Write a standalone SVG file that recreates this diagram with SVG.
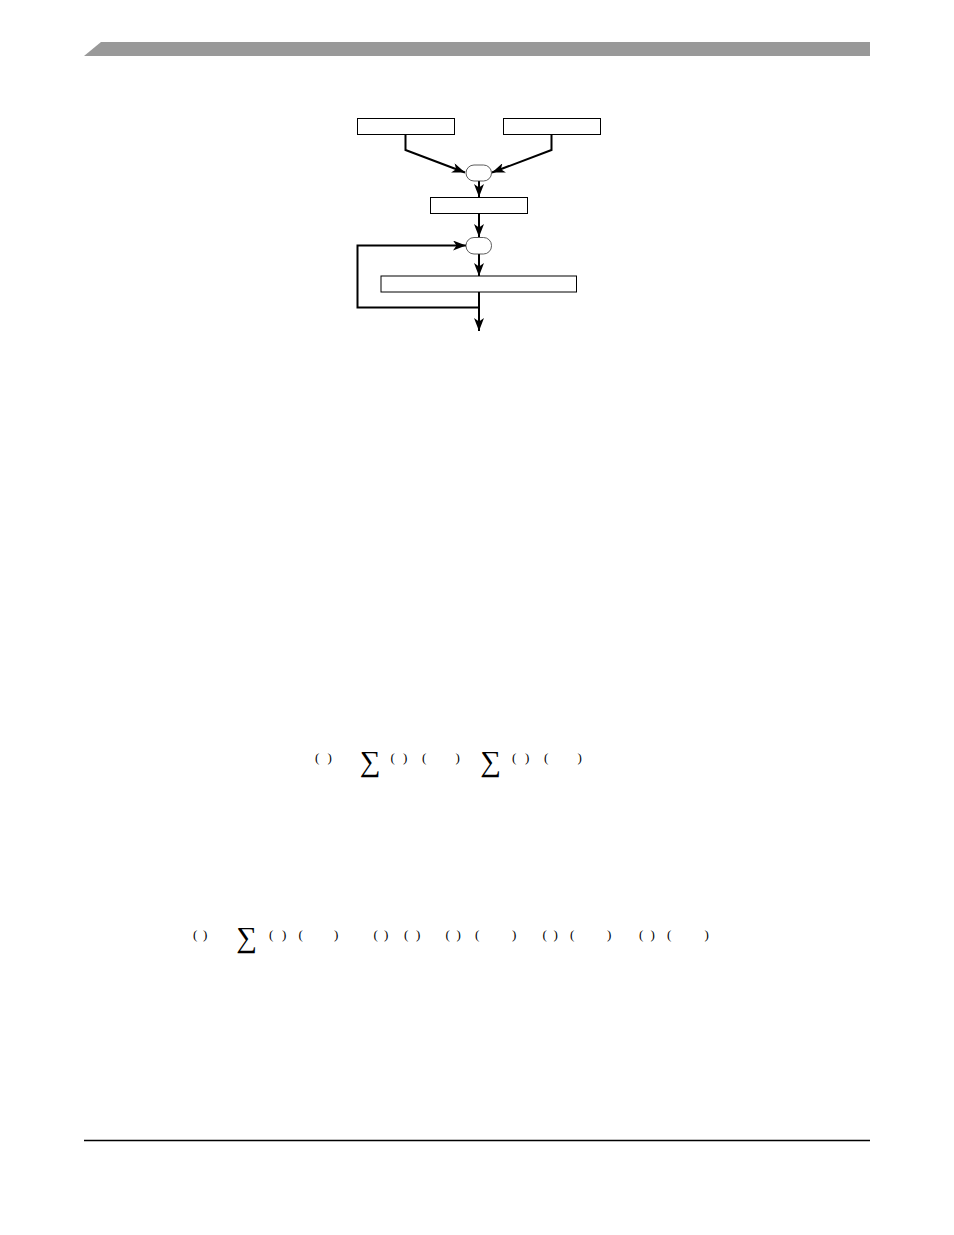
<svg xmlns="http://www.w3.org/2000/svg" width="954" height="1235" viewBox="0 0 954 1235">
<style>
.box{fill:#fff;stroke:#000;stroke-width:1}
.pill{fill:#fff;stroke:#333;stroke-width:0.8}
.conn{fill:none;stroke:#000;stroke-width:2}
.f{font-family:"Liberation Serif","Times New Roman",serif;font-size:13px;fill:#000}
.s{font-family:"Liberation Serif","Times New Roman",serif;font-size:29px;fill:#000}
</style>
<defs>
<marker id="ah" viewBox="0 0 13 10" refX="13" refY="5" markerWidth="13" markerHeight="10" markerUnits="userSpaceOnUse" orient="auto">
<path d="M0,0 L13,5 L0,10 L3.5,5 z" fill="#000"/>
</marker>
</defs>
<rect width="954" height="1235" fill="#fff"/>
<polygon id="header" points="84,56 101,42 870,42 870,56" fill="#999"/>
<line id="footer" x1="84" y1="1140.5" x2="870" y2="1140.5" stroke="#000" stroke-width="1.3"/>
<g id="connectors">
<path class="conn" d="M405.5,134.5 V150 L465,172.5" marker-end="url(#ah)"/>
<path class="conn" d="M551.5,134.5 V150 L492,172.5" marker-end="url(#ah)"/>
<path class="conn" d="M479,181 V197" marker-end="url(#ah)"/>
<path class="conn" d="M479,213.5 V237" marker-end="url(#ah)"/>
<path class="conn" d="M479,254 V276" marker-end="url(#ah)"/>
<path class="conn" d="M479,292 V331" marker-end="url(#ah)"/>
<path class="conn" d="M479,307.5 H357.5 V245.5 H466" marker-end="url(#ah)"/>
</g>
<g id="boxA"><rect class="box" x="357.5" y="118.5" width="97" height="16"/></g>
<g id="boxB"><rect class="box" x="503.5" y="118.5" width="97" height="16"/></g>
<g id="join1"><rect class="pill" x="466" y="165" width="25.5" height="16" rx="8" ry="8"/></g>
<g id="boxC"><rect class="box" x="430.5" y="197.5" width="97" height="16"/></g>
<g id="join2"><rect class="pill" x="466" y="237.5" width="25.5" height="16.5" rx="8" ry="8"/></g>
<g id="boxD"><rect class="box" x="381" y="276" width="195.5" height="16"/></g>
<g id="eq1">
<text class="f" x="315 327.5" y="761.5">()</text>
<text class="s" x="360" y="771">∑</text>
<text class="f" x="390.5 403 422 455.5" y="761.5">()()</text>
<text class="s" x="480.5" y="771">∑</text>
<text class="f" x="512 525 544 577.5" y="761.5">()()</text>
</g>
<g id="eq2">
<text class="f" x="193 203" y="939">()</text>
<text class="s" x="236.5" y="946.5">∑</text>
<text class="f" x="269 282 298.5 334 373.5 384 404 416 445.5 456.5 475 512 542.5 553.5 570 607 639 650.5 667 704.5" y="939">()()()()()()()()()()</text>
</g>
</svg>
